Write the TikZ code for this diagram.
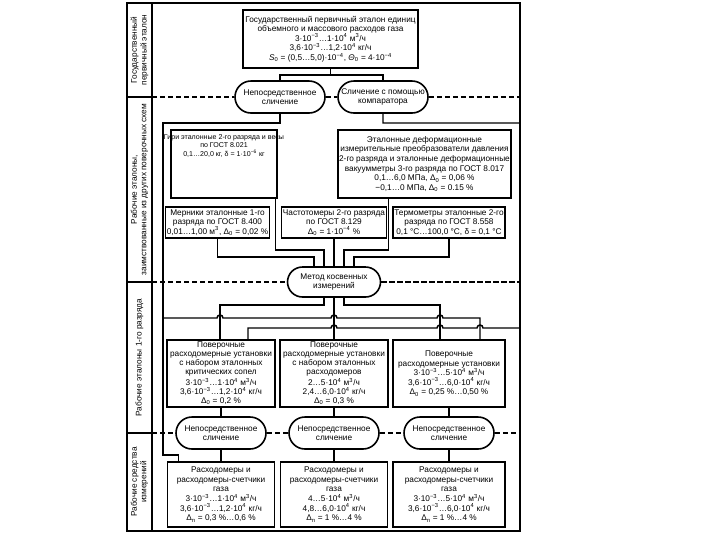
\documentclass[tikz,border=0pt]{standalone}
\usepackage{fontspec}
\setmainfont{Liberation Sans}
\usetikzlibrary{calc}
\newcommand{\tp}[1]{10\textsuperscript{#1}}
\newcommand{\mch}{м\textsuperscript{3}/ч}
\newcommand{\dz}{Δ\textsubscript{0}}
\newcommand{\dn}{Δ\textsubscript{п}}
\begin{document}
\begin{tikzpicture}[x=0.75pt,y=-0.75pt,
  txt/.style={font=\fontsize{6.2}{7.2}\selectfont, align=center, inner sep=1pt},
  bx/.style={txt, draw, line width=1.2pt},
  bx7/.style={bx, font=\fontsize{6.2}{6.8}\selectfont},
  pill/.style={txt, draw, line width=1.2pt, rounded corners=12pt, minimum width=67.5pt, minimum height=24pt},
  con/.style={line width=1.1pt},
  dsh/.style={line width=1.1pt, dash pattern=on 4pt off 2pt},
  frm/.style={line width=1.3pt}]
\useasboundingbox (0,0) rectangle (720,540);

% frame and strip
\draw[frm] (127,3) rectangle (520,531);
\draw[frm] (152,3) -- (152,531);
\draw[frm] (127,97) -- (152,97);
\draw[frm] (127,282) -- (152,282);
\draw[frm] (127,433) -- (152,433);
\node[txt, rotate=90] (lab1) at (139.5,50) {Государственный\\первичный эталон};
\node[txt, rotate=90] (lab2) at (139.5,189.5) {Рабочие эталоны,\\заимствованные из других поверочных схем};
\node[txt, rotate=90] (lab3) at (139.5,357.5) {Рабочие эталоны 1-го разряда};
\node[txt, rotate=90] (lab4) at (139.5,482) {Рабочие средства\\измерений};

% top
\node[bx, line width=2.2pt, minimum width=131.25pt, minimum height=43.5pt] (T) at (330.5,39)
 {Государственный первичный эталон единиц\\объемного и массового расходов газа\\
  3·\tp{−3}…1·\tp{4} \mch\\3,6·\tp{−3}…1,2·\tp{4} кг/ч\\
  \textit{S}\textsubscript{0} = (0,5…5,0)·\tp{−4}, \textit{Θ}\textsubscript{0} = 4·\tp{−4}};
\node[pill] (LP) at (280,97) {Непосредственное\\сличение};
\node[pill] (RP) at (383,97) {Сличение с помощью\\компаратора};

% borrowed standards
\node[draw, line width=1.2pt, minimum width=79.5pt, minimum height=51pt] (G) at (224,164) {};
\node[txt, font=\fontsize{5.3}{6.6}\selectfont, anchor=north] (Gt) at ([yshift=-2.5pt]G.north) {Гири эталонные 2-го разряда и весы\\по ГОСТ 8.021\\0,1…20,0 кг, δ = 1·\tp{−6} кг};
\node[bx, minimum width=128.25pt, minimum height=51pt] (E) at (424.5,164)
 {Эталонные деформационные\\измерительные преобразователи давления\\2-го разряда и эталонные деформационные\\вакуумметры 3-го разряда по ГОСТ 8.017\\
  0,1…6,0 МПа, \dz{} = 0,06 \%\\−0,1…0 МПа, \dz{} = 0.15 \%};
\node[bx, minimum width=75.75pt, minimum height=23.25pt] (M) at (217.5,222.5)
 {Мерники эталонные 1-го\\разряда по ГОСТ 8.400\\0,01…1,00 м\textsuperscript{3}, \dz{} = 0,02 \%};
\node[bx, minimum width=75pt, minimum height=23.25pt] (Ch) at (334,222.5)
 {Частотомеры 2-го разряда\\по ГОСТ 8.129\\\dz{} = 1·\tp{−4} \%};
\node[bx, minimum width=84pt, minimum height=23.25pt] (Th) at (449,222.5)
 {Термометры эталонные 2-го\\разряда по ГОСТ 8.558\\0,1 °C…100,0 °C, δ = 0,1 °C};
\node[pill, minimum width=69.75pt, minimum height=22.5pt, rounded corners=11.25pt] (MP) at (334,282) {Метод косвенных\\измерений};

% first rank
\node[bx7, minimum width=81pt, minimum height=50.25pt] (A) at (221,373.5)
 {Поверочные\\расходомерные установки\\с набором эталонных\\критических сопел\\3·\tp{−3}…1·\tp{4} \mch\\3,6·\tp{−3}…1,2·\tp{4} кг/ч\\\dz{} = 0,2 \%};
\node[bx7, minimum width=81pt, minimum height=50.25pt] (B) at (334,373.5)
 {Поверочные\\расходомерные установки\\с набором эталонных\\расходомеров\\2…5·\tp{4} \mch\\2,4…6,0·\tp{4} кг/ч\\\dz{} = 0,3 \%};
\node[bx, minimum width=84pt, minimum height=50.25pt] (C) at (449,373.5)
 {Поверочные\\расходомерные установки\\3·\tp{−3}…5·\tp{4} \mch\\3,6·\tp{−3}…6,0·\tp{4} кг/ч\\\dz{} = 0,25 \%…0,50 \%};
\node[pill] (P1) at (221,433) {Непосредственное\\сличение};
\node[pill] (P2) at (334,433) {Непосредственное\\сличение};
\node[pill] (P3) at (449,433) {Непосредственное\\сличение};

% working instruments
\node[bx, minimum width=80.25pt, minimum height=48.75pt] (D) at (221,494.5)
 {Расходомеры и\\расходомеры-счетчики\\газа\\3·\tp{−3}…1·\tp{4} \mch\\3,6·\tp{−3}…1,2·\tp{4} кг/ч\\\dn{} = 0,3 \%…0,6 \%};
\node[bx, minimum width=80.25pt, minimum height=48.75pt] (E2) at (334,494.5)
 {Расходомеры и\\расходомеры-счетчики\\газа\\4…5·\tp{4} \mch\\4,8…6,0·\tp{4} кг/ч\\\dn{} = 1 \%…4 \%};
\node[bx, minimum width=84pt, minimum height=48.75pt] (F) at (449,494.5)
 {Расходомеры и\\расходомеры-счетчики\\газа\\3·\tp{−3}…5·\tp{4} \mch\\3,6·\tp{−3}…6,0·\tp{4} кг/ч\\\dn{} = 1 \%…4 \%};

% dashed section lines
\coordinate (s1) at (152,97);  \coordinate (r1) at (520,97);
\coordinate (s2) at (152,282); \coordinate (r2) at (520,282);
\coordinate (s3) at (152,433); \coordinate (r3) at (520,433);
\draw[dsh] (s1) -- (LP.west) (LP.east) -- (RP.west) (RP.east) -- (r1);
\draw[dsh] (s2) -- (MP.west) (MP.east) -- (r2);
\draw[dsh] (s3) -- (P1.west) (P1.east) -- (P2.west) (P2.east) -- (P3.west) (P3.east) -- (r3);

% top connectors
\coordinate (tsplit) at (330.5,75);
\draw[con] (T.south) -- (tsplit);
\draw[con] (LP.north) |- (tsplit) -| (RP.north);

% direct comparison line (left)
\coordinate (dc1) at (163,123);
\coordinate (dc2) at (163,455);
\coordinate (dc3) at (163,318);
\coordinate (dc4) at (480,318);
\draw[con] (LP.south) |- (dc1) -- (dc2) -| ([xshift=9pt]D.north west);
\draw[con] (dc3) -- (217,318) arc[start angle=180,end angle=0,radius=2.25pt]
  -- (331,318) arc[start angle=180,end angle=0,radius=2.25pt]
  -- (437,318) arc[start angle=180,end angle=0,radius=2.25pt]
  -- (dc4) -- (C.north -| dc4);

% comparator line (right)
\coordinate (cp1) at (520,123);
\coordinate (cp2) at (520,328);
\coordinate (cp3) at (248,328);
\draw[con] (RP.south) |- (cp1) -- (cp2)
  -- (483,328) arc[start angle=0,end angle=180,radius=2.25pt]
  -- (443,328) arc[start angle=0,end angle=180,radius=2.25pt]
  -- (337,328) arc[start angle=0,end angle=180,radius=2.25pt]
  -- (cp3) -- (A.north -| cp3);

% borrowed standards to indirect method
\coordinate (g1) at (275.5,250);
\coordinate (m1) at (217.5,257);
\coordinate (e1) at (388.5,250);
\coordinate (t1) at (449,257);
\draw[con] (G.south -| g1) -- (g1) -| ([xshift=-7.5pt]MP.north);
\draw[con] (M.south) -- (m1) -| ([xshift=-15pt]MP.north);
\draw[con] (Ch.south) -- (MP.north);
\draw[con] (E.south -| e1) -- (e1) -| ([xshift=7.5pt]MP.north);
\draw[con] (Th.south) -- (t1) -| ([xshift=15pt]MP.north);

% indirect method to first rank
\coordinate (a1) at (220,305);
\coordinate (c1) at (440,305);
\draw[con] ([xshift=-7.5pt]MP.south) |- (a1) -- (A.north -| a1);
\draw[con] (MP.south) -- (B.north);
\draw[con] ([xshift=7.5pt]MP.south) |- (c1) -- (C.north -| c1);

% first rank to working instruments
\draw[con] (A.south) -- (P1.north);
\draw[con] (P1.south) -- (D.north);
\draw[con] (B.south) -- (P2.north);
\draw[con] (P2.south) -- (E2.north);
\draw[con] (C.south) -- (P3.north);
\draw[con] (P3.south) -- (F.north);
\end{tikzpicture}
\end{document}
